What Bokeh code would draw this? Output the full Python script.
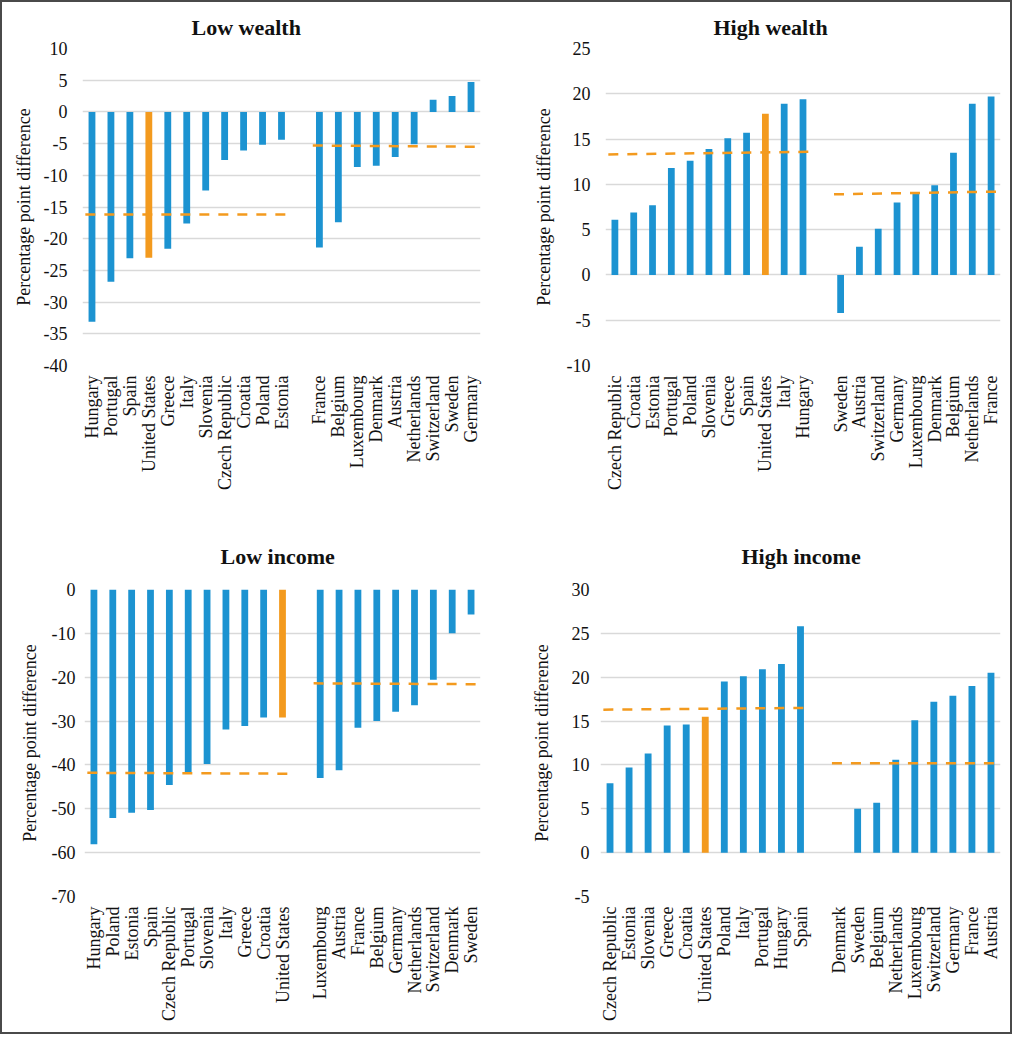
import math
from bokeh.plotting import figure
from bokeh.models import FactorRange, Range1d, FixedTicker
from bokeh.layouts import column, row
from bokeh.embed import file_html
from bokeh.resources import INLINE

# ---------------- data ----------------
lw_countries_a = ["Hungary", "Portugal", "Spain", "United States", "Greece", "Italy",
                  "Slovenia", "Czech Republic", "Croatia", "Poland", "Estonia"]
lw_values_a = [-33.1, -26.8, -23.1, -23.0, -21.6, -17.6, -12.4, -7.6, -6.1, -5.2, -4.4]
lw_countries_b = ["France", "Belgium", "Luxembourg", "Denmark", "Austria", "Netherlands",
                  "Switzerland", "Sweden", "Germany"]
lw_values_b = [-21.4, -17.4, -8.7, -8.5, -7.1, -5.1, 1.9, 2.5, 4.7]
lw_mean_a = [-16.2, -16.2]
lw_mean_b = [-5.3, -5.5]

hw_countries_a = ["Czech Republic", "Croatia", "Estonia", "Portugal", "Poland", "Slovenia",
                  "Greece", "Spain", "United States", "Italy", "Hungary"]
hw_values_a = [6.1, 6.9, 7.7, 11.8, 12.6, 13.9, 15.1, 15.7, 17.8, 18.9, 19.4]
hw_countries_b = ["Sweden", "Austria", "Switzerland", "Germany", "Luxembourg", "Denmark",
                  "Belgium", "Netherlands", "France"]
hw_values_b = [-4.2, 3.1, 5.1, 8.0, 9.1, 9.9, 13.5, 18.9, 19.7]
hw_mean_a = [13.3, 13.6]
hw_mean_b = [8.9, 9.2]

li_countries_a = ["Hungary", "Poland", "Estonia", "Spain", "Czech Republic", "Portugal",
                  "Slovenia", "Italy", "Greece", "Croatia", "United States"]
li_values_a = [-58.1, -52.1, -50.9, -50.3, -44.6, -41.6, -39.8, -31.9, -31.1, -29.2, -29.2]
li_countries_b = ["Luxembourg", "Austria", "France", "Belgium", "Germany", "Netherlands",
                  "Switzerland", "Denmark", "Sweden"]
li_values_b = [-43.0, -41.2, -31.5, -30.0, -27.9, -26.4, -20.6, -10.0, -5.7]
li_mean_a = [-41.8, -42.0]
li_mean_b = [-21.4, -21.6]

hi_countries_a = ["Czech Republic", "Estonia", "Slovenia", "Greece", "Croatia", "United States",
                  "Poland", "Italy", "Portugal", "Hungary", "Spain"]
hi_values_a = [7.9, 9.7, 11.3, 14.5, 14.6, 15.5, 19.5, 20.1, 20.9, 21.5, 25.8]
hi_countries_b = ["Denmark", "Sweden", "Belgium", "Netherlands", "Luxembourg", "Switzerland",
                  "Germany", "France", "Austria"]
hi_values_b = [0.0, 5.0, 5.7, 10.6, 15.1, 17.2, 17.9, 19.0, 20.5]
hi_mean_a = [16.3, 16.5]
hi_mean_b = [10.2, 10.2]

BLUE = "#1C93D1"
ORANGE = "#F39A1E"
FONT = "Liberation Serif"


def make_panel(title, ca, va, cb, vb, ma, mb, ylo, yhi, step,
               left, right, top, bottom, title_offset, title_standoff,
               tick_standoff, label_standoff, W=504, H=515):
    factors = ca + [" "] + cb
    p = figure(x_range=FactorRange(*factors, range_padding=0, factor_padding=0),
               y_range=Range1d(ylo, yhi), width=W, height=H,
               output_backend="svg", toolbar_location=None,
               min_border_left=left, min_border_right=right,
               min_border_top=top, min_border_bottom=bottom)
    p.title.text = title
    p.title.text_font = FONT
    p.title.text_font_style = "bold"
    p.title.text_font_size = "22px"
    p.title.text_color = "#111111"
    p.title.align = "left"
    p.title.offset = title_offset
    p.title.standoff = title_standoff

    cats = ca + cb
    vals = va + vb
    colors = [ORANGE if c == "United States" else BLUE for c in cats]
    p.vbar(x=cats, top=vals, bottom=0, width=0.36, color=colors, line_color=None)

    p.line(x=[(ca[0], -0.35), (ca[-1], 0.35)], y=ma, line_color=ORANGE,
           line_width=2.5, line_dash="10 9")
    p.line(x=[(cb[0], -0.35), (cb[-1], 0.35)], y=mb, line_color=ORANGE,
           line_width=2.5, line_dash="10 9")

    ticks = list(range(ylo, yhi + 1, step))
    p.yaxis.ticker = FixedTicker(ticks=ticks)
    p.yaxis.major_label_overrides = {t: str(t) for t in ticks}
    p.yaxis.axis_label = "Percentage point difference"
    p.yaxis.axis_label_text_font = FONT
    p.yaxis.axis_label_text_font_style = "normal"
    p.yaxis.axis_label_text_font_size = "18px"
    p.yaxis.axis_label_text_color = "#111111"
    p.yaxis.axis_label_standoff = label_standoff
    for ax in (p.xaxis, p.yaxis):
        ax.major_label_text_font = FONT
        ax.major_label_text_font_size = "18px"
        ax.major_label_text_color = "#111111"
        ax.axis_line_color = None
        ax.major_tick_line_color = None
        ax.minor_tick_line_color = None
        ax.major_tick_out = 0
        ax.major_tick_in = 0
        ax.minor_tick_out = 0
        ax.minor_tick_in = 0
    p.yaxis.major_label_standoff = tick_standoff
    p.xaxis.major_label_standoff = 10
    p.xaxis.major_label_orientation = math.pi / 2

    p.xgrid.grid_line_color = None
    p.ygrid.grid_line_color = "#D9D9D9"
    p.ygrid.grid_line_width = 1.5
    p.outline_line_color = None
    p.background_fill_color = "white"
    p.border_fill_color = "white"
    return p


p1 = make_panel("Low wealth", lw_countries_a, lw_values_a, lw_countries_b, lw_values_b,
                lw_mean_a, lw_mean_b, -40, 10, 5,
                left=80, right=26, top=46, bottom=152, title_offset=109, title_standoff=18,
                tick_standoff=15, label_standoff=7)
p2 = make_panel("High wealth", hw_countries_a, hw_values_a, hw_countries_b, hw_values_b,
                hw_mean_a, hw_mean_b, -10, 25, 5,
                left=99, right=10, top=46, bottom=152, title_offset=108, title_standoff=18,
                tick_standoff=15, label_standoff=10)
p3 = make_panel("Low income", li_countries_a, li_values_a, li_countries_b, li_values_b,
                li_mean_a, li_mean_b, -70, 0, 10,
                left=82, right=26, top=72, bottom=136, title_offset=136, title_standoff=41,
                tick_standoff=9, label_standoff=9)
p4 = make_panel("High income", hi_countries_a, hi_values_a, hi_countries_b, hi_values_b,
                hi_mean_a, hi_mean_b, -5, 30, 5,
                left=94, right=10, top=72, bottom=136, title_offset=141, title_standoff=41,
                tick_standoff=11, label_standoff=17)

layout = column(row(p1, p2, spacing=0), row(p3, p4, spacing=0), spacing=0,
                styles={"border": "2px solid #4a4a4a", "background-color": "white"})

open("out.html", "w").write(file_html(layout, INLINE))
